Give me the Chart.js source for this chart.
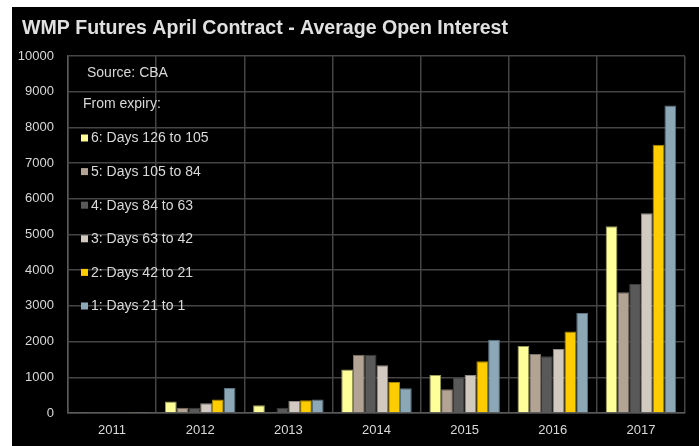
<!DOCTYPE html>
<html>
<head>
<meta charset="utf-8">
<script src="https://cdn.jsdelivr.net/npm/chart.js@4/dist/chart.umd.min.js"></script>
<style>
  html, body { margin: 0; padding: 0; background: #fff; }
  #wrap { position: absolute; left: 12px; top: 7px; width: 687px; height: 439px; background: #000; }
  canvas { display: block; }
</style>
</head>
<body>
<div id="wrap"><canvas id="chart" width="687" height="439"></canvas></div>
<script>
const TITLE = "WMP Futures April Contract - Average Open Interest";
const SOURCE_NOTE = "Source: CBA";
const LEGEND_HEADING = "From expiry:";

const YEARS = ["2011", "2012", "2013", "2014", "2015", "2016", "2017"];

const SERIES_LABELS = [
  "6: Days 126 to 105",
  "5: Days 105 to 84",
  "4: Days 84 to 63",
  "3: Days 63 to 42",
  "2: Days 42 to 21",
  "1: Days 21 to 1",
];

const DAYS_126_TO_105 = [15, 320, 215, 1215, 1065, 1880, 5230];
const DAYS_105_TO_84 = [0, 150, 20, 1635, 665, 1655, 3380];
const DAYS_84_TO_63 = [0, 150, 150, 1635, 1000, 1590, 3610];
const DAYS_63_TO_42 = [0, 270, 335, 1335, 1065, 1795, 5595];
const DAYS_42_TO_21 = [15, 380, 355, 865, 1450, 2280, 7515];
const DAYS_21_TO_1 = [10, 700, 375, 690, 2055, 2800, 8610];

const SERIES_VALUES = [
  DAYS_126_TO_105,
  DAYS_105_TO_84,
  DAYS_84_TO_63,
  DAYS_63_TO_42,
  DAYS_42_TO_21,
  DAYS_21_TO_1,
];

const FILLS = ["#FFFF99", "#B3A395", "#595959", "#D2CAC0", "#FFCC00", "#8CA7B5"];
const EDGES = ["#9a9a5c", "#7d7268", "#3d3d3d", "#8f8a83", "#a68500", "#5d7380"];

const TEXT_COLOR = "#d9d9d9";
const GRID_COLOR = "#454545";
const FONT = "'Liberation Sans', Arial, sans-serif";

const overlayText = {
  id: "overlayText",
  afterDraw(chart) {
    const { ctx, chartArea } = chart;

    // title, squeezed a little to the width of the original
    ctx.save();
    ctx.font = "bold 20px " + FONT;
    ctx.fillStyle = "#e0e0e0";
    ctx.textBaseline = "middle";
    const w = ctx.measureText(TITLE).width;
    ctx.translate(10, 21);
    ctx.scale(486 / w, 1);
    ctx.fillText(TITLE, 0, 0);
    ctx.restore();

    // legend inside the plot area
    ctx.save();
    ctx.font = "14px " + FONT;
    ctx.fillStyle = TEXT_COLOR;
    ctx.textBaseline = "middle";
    const x0 = chartArea.left;
    ctx.fillText(SOURCE_NOTE, x0 + 19, 66);
    ctx.fillText(LEGEND_HEADING, x0 + 15, 97);
    SERIES_LABELS.forEach((label, i) => {
      const y = 131 + i * 33.6;
      ctx.fillStyle = FILLS[i];
      ctx.fillRect(x0 + 13, y - 3.5, 7, 7);
      ctx.fillStyle = TEXT_COLOR;
      ctx.fillText(label, x0 + 23, y + 0.5);
    });
    ctx.restore();
  },
};

new Chart(document.getElementById("chart"), {
  type: "bar",
  data: {
    labels: YEARS,
    datasets: SERIES_LABELS.map((label, i) => ({
      label,
      data: SERIES_VALUES[i],
      backgroundColor: FILLS[i],
      borderColor: EDGES[i],
      borderWidth: 1,
      borderSkipped: "bottom",
      categoryPercentage: 0.8,
      barPercentage: 1.0,
    })),
  },
  options: {
    responsive: false,
    animation: false,
    devicePixelRatio: 1,
    layout: { padding: { top: 49, right: 14, bottom: 0, left: 0 } },
    plugins: {
      legend: { display: false },
      title: { display: false },
      tooltip: { enabled: false },
    },
    scales: {
      x: {
        afterFit(scale) { scale.height = 33; },
        grid: { color: GRID_COLOR, lineWidth: 1.5, drawTicks: false, offset: true },
        border: { color: "#5a5a5a", width: 1.5 },
        ticks: { color: TEXT_COLOR, font: { family: FONT, size: 13 }, padding: 10 },
      },
      y: {
        min: 0,
        max: 10000,
        afterFit(scale) { scale.width = 56; },
        grid: { color: GRID_COLOR, lineWidth: 1.5, drawTicks: false },
        border: { color: "#5a5a5a", width: 1.5 },
        ticks: {
          stepSize: 1000,
          color: TEXT_COLOR,
          font: { family: FONT, size: 13 },
          padding: 14,
          callback: (v) => String(v),
        },
      },
    },
  },
  plugins: [overlayText],
});
</script>
</body>
</html>
